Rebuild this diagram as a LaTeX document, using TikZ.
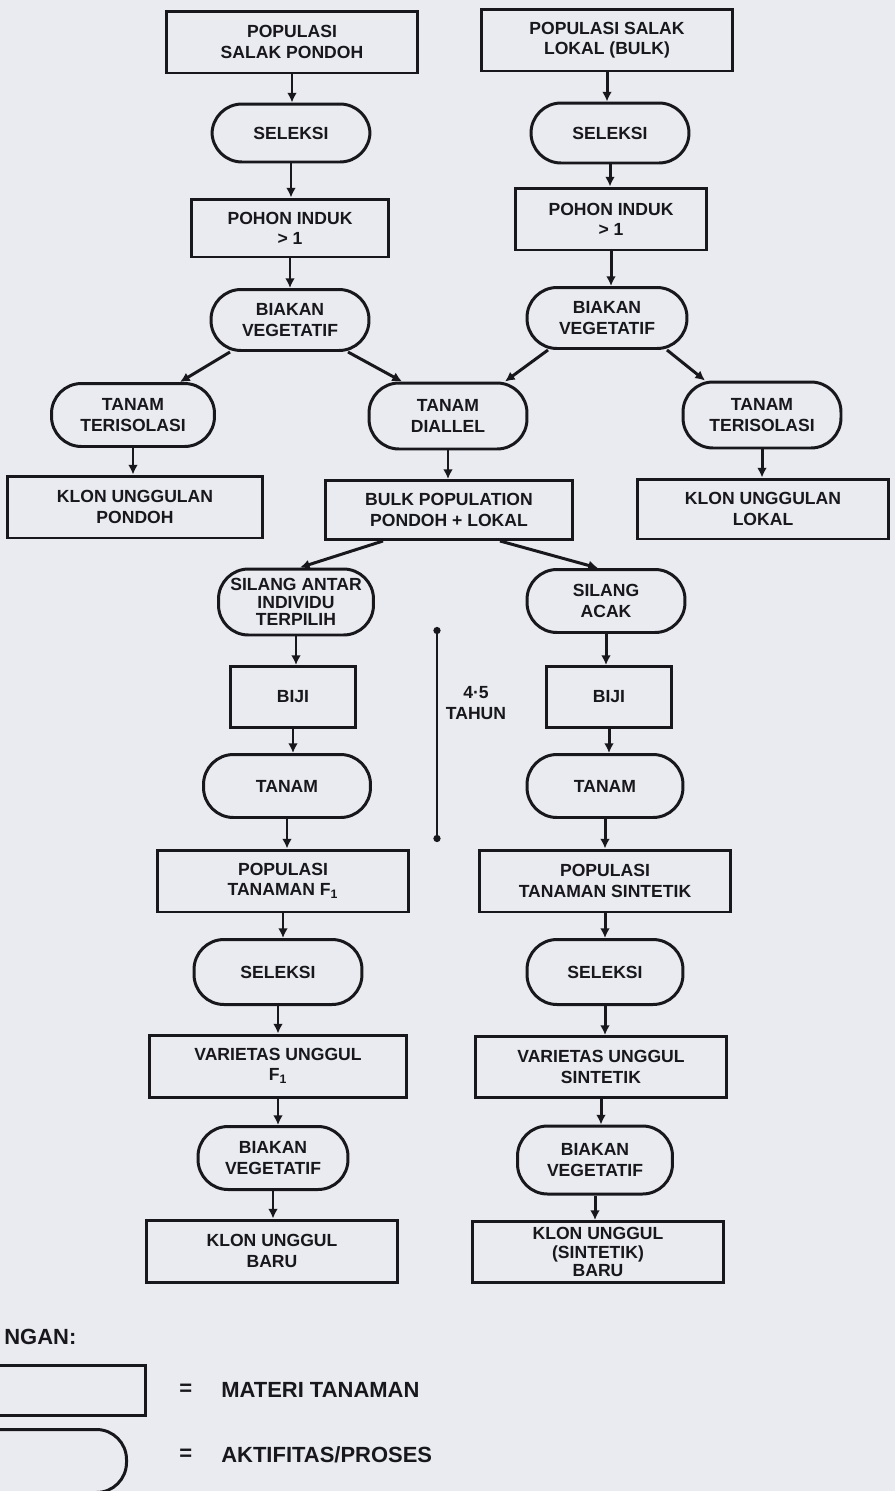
\documentclass[tikz,border=0pt]{standalone}
\usepackage{fontspec}
\setmainfont{Liberation Sans}
\usetikzlibrary{arrows.meta}
\definecolor{paper}{RGB}{233,235,240}
\definecolor{ink}{RGB}{24,24,28}

\begin{document}
\begin{tikzpicture}[x=0.02cm,y=-0.02cm,line width=1.7pt,ink,
		font=\fontsize{10}{11.5}\selectfont\bfseries,
		box/.style={draw,align=center,inner sep=1pt,minimum width=5.04cm,minimum height=1.24cm},
		proc/.style={draw,align=center,inner sep=1pt,rounded corners=0.6cm,minimum width=3.16cm,minimum height=1.26cm},
		arr/.style={-{Latex[length=5.5pt,width=5.5pt]}},
		spanbar/.style={{Circle[length=4pt]}-{Circle[length=4pt]}},
		keytext/.style={anchor=west,font=\fontsize{12.5}{14}\selectfont\bfseries}]
	\useasboundingbox (0,0) rectangle (895,1491);
	\clip (0,0) rectangle (895,1491);
	\fill[paper] (0,0) rectangle (895,1491);

	% salak pondoh
	\node[box] (pp) at (292,42) {POPULASI\\SALAK PONDOH};
	\node[proc,minimum height=1.16cm] (sp) at (291,133) {SELEKSI};
	\node[box,minimum width=3.94cm,minimum height=1.16cm] (ip) at (290,228) {POHON INDUK\\> 1};
	\node[proc,minimum height=1.22cm] (bp) at (290,320) {BIAKAN\\VEGETATIF};
	\node[proc,minimum width=3.26cm] (tp) at (133,415) {TANAM\\TERISOLASI};
	\node[box,minimum width=5.12cm] (kp) at (135,507) {KLON UNGGULAN\\PONDOH};

	% salak lokal
	\node[box] (pl) at (607,40) {POPULASI SALAK\\LOKAL (BULK)};
	\node[proc,minimum height=1.2cm] (sl) at (610,133) {SELEKSI};
	\node[box,minimum width=3.84cm] (il) at (611,219) {POHON INDUK\\> 1};
	\node[proc,minimum width=3.2cm,minimum height=1.22cm] (bl) at (607,318) {BIAKAN\\VEGETATIF};
	\node[proc,minimum height=1.32cm] (tl) at (762,415) {TANAM\\TERISOLASI};
	\node[box,minimum height=1.2cm] (kl) at (763,509) {KLON UNGGULAN\\LOKAL};

	\node[proc,minimum height=1.32cm] (dl) at (448,416) {TANAM\\DIALLEL};
	\node[box,minimum width=4.96cm,minimum height=1.18cm] (bk) at (449,510) {BULK POPULATION\\PONDOH + LOKAL};

	% cabang F1
	\node[proc,minimum width=3.1cm,minimum height=1.32cm] (xa) at (296,602) {SILANG ANTAR\\[-1.5pt]INDIVIDU\\[-1.5pt]TERPILIH};
	\node[box,minimum width=2.5cm,minimum height=1.22cm] (ja) at (293,697) {BIJI};
	\node[proc,minimum width=3.34cm] (ta) at (287,786) {TANAM};
	\node[box] (fa) at (283,881) {POPULASI\\TANAMAN F\textsubscript{1}};
	\node[proc,minimum width=3.36cm,minimum height=1.3cm] (sa) at (278,972) {SELEKSI};
	\node[box,minimum width=5.14cm] (va) at (278,1066) {VARIETAS UNGGUL\\F\textsubscript{1}};
	\node[proc,minimum width=3cm] (ba) at (273,1158) {BIAKAN\\VEGETATIF};
	\node[box] (ka) at (272,1251) {KLON UNGGUL\\BARU};

	% cabang sintetik
	\node[proc] (xs) at (606,601) {SILANG\\ACAK};
	\node[box,minimum width=2.5cm,minimum height=1.22cm] (js) at (609,697) {BIJI};
	\node[proc,minimum width=3.12cm] (ts) at (605,786) {TANAM};
	\node[box] (fs) at (605,881) {POPULASI\\TANAMAN SINTETIK};
	\node[proc,minimum width=3.12cm,minimum height=1.3cm] (ss) at (605,972) {SELEKSI};
	\node[box,minimum height=1.22cm] (vs) at (601,1067) {VARIETAS UNGGUL\\SINTETIK};
	\node[proc,minimum width=3.1cm,minimum height=1.36cm] (bs) at (595,1160) {BIAKAN\\VEGETATIF};
	\node[box,minimum height=1.22cm] (ks) at (598,1252) {KLON UNGGUL\\[-1pt](SINTETIK)\\[-1pt]BARU};

	\coordinate (t1) at (437,627);
	\coordinate (t2) at (437,842);
	\draw[spanbar] (t1) -- (t2);
	\node[align=center] (yr) at (476,703) {4·5\\TAHUN};

	\foreach \a/\b in {pp/sp,sp/ip,ip/bp,tp/kp,pl/sl,sl/il,il/bl,tl/kl,dl/bk,
			xa/ja,ja/ta,ta/fa,fa/sa,sa/va,va/ba,ba/ka,
			xs/js,js/ts,ts/fs,fs/ss,ss/vs,vs/bs,bs/ks}
		\draw[arr] (\a) -- (\a |- \b.north);
	\draw[arr] ([xshift=-1.2cm]bp.south) -- ([xshift=0.94cm]tp.north);
	\draw[arr] ([xshift=1.16cm]bp.south) -- ([xshift=-0.92cm]dl.north);
	\draw[arr] ([xshift=-1.18cm]bl.south) -- ([xshift=1.14cm]dl.north);
	\draw[arr] ([xshift=1.2cm]bl.south) -- ([xshift=-1.14cm]tl.north);
	\draw[arr] ([xshift=-1.32cm]bk.south) -- ([xshift=0.08cm]xa.north);
	\draw[arr] ([xshift=1.02cm]bk.south) -- ([xshift=-0.16cm]xs.north);

	% keterangan
	\node[keytext] (kt) at (-3,1337) {NGAN:};
	\node[box,minimum width=4cm,minimum height=1cm,anchor=east] (kb) at (147,1390) {};
	\node[proc,minimum width=4cm,anchor=north east] (kc) at (128,1428) {};
	\node[keytext] (e1) at (172,1390) {=};
	\node[keytext] (e2) at (172,1455) {=};
	\node[keytext] (m1) at (214,1390) {MATERI TANAMAN};
	\node[keytext] (m2) at (214,1455) {AKTIFITAS/PROSES};
\end{tikzpicture}
\end{document}
